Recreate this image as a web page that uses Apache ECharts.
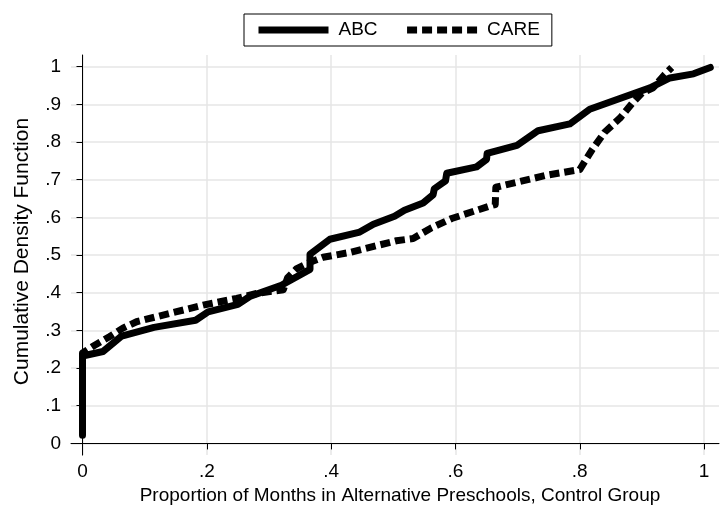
<!DOCTYPE html>
<html>
<head>
<meta charset="utf-8">
<script src="https://cdn.jsdelivr.net/npm/echarts@6/dist/echarts.min.js"></script>
<style>
html,body{margin:0;padding:0;background:#fff;}
#chart{width:723px;height:510px;}
</style>
</head>
<body>
<div id="chart"></div>
<script>
// Data (x = proportion, y = CDF)
var abcX = [0, 0, 0.033, 0.049, 0.063, 0.115, 0.182, 0.202, 0.25, 0.269, 0.32, 0.366, 0.366, 0.398, 0.446, 0.468, 0.502, 0.518, 0.548, 0.564, 0.566, 0.584, 0.586, 0.634, 0.65, 0.651, 0.699, 0.733, 0.784, 0.816, 0.913, 0.945, 0.983, 1.01];
var abcY = [0.022, 0.232, 0.244, 0.266, 0.285, 0.308, 0.327, 0.349, 0.369, 0.39, 0.42, 0.462, 0.502, 0.542, 0.561, 0.582, 0.603, 0.619, 0.638, 0.66, 0.676, 0.697, 0.717, 0.734, 0.754, 0.77, 0.791, 0.83, 0.848, 0.887, 0.944, 0.97, 0.981, 0.998];
var careX = [0, 0, 0.017, 0.044, 0.065, 0.087, 0.14, 0.194, 0.248, 0.28, 0.323, 0.33, 0.344, 0.366, 0.387, 0.43, 0.505, 0.532, 0.561, 0.594, 0.655, 0.664, 0.665, 0.693, 0.747, 0.8, 0.82, 0.84, 0.865, 0.884, 0.9, 0.918, 0.936, 0.948];
var careY = [0.03, 0.24, 0.258, 0.284, 0.306, 0.323, 0.345, 0.367, 0.385, 0.398, 0.408, 0.44, 0.463, 0.481, 0.494, 0.507, 0.538, 0.544, 0.572, 0.597, 0.63, 0.634, 0.68, 0.691, 0.712, 0.727, 0.78, 0.826, 0.864, 0.902, 0.93, 0.944, 0.978, 0.998];
var xTicks = [0, 0.2, 0.4, 0.6, 0.8, 1];
var xTickLabels = ['0', '.2', '.4', '.6', '.8', '1'];
var yTicks = [0, 0.1, 0.2, 0.3, 0.4, 0.5, 0.6, 0.7, 0.8, 0.9, 1];
var yTickLabels = ['0', '.1', '.2', '.3', '.4', '.5', '.6', '.7', '.8', '.9', '1'];
var seriesNames = ['ABC', 'CARE'];
var xTitle = 'Proportion of Months in Alternative Preschools, Control Group';
var yTitle = 'Cumulative Density Function';

function pairs(xs, ys) { return xs.map(function (v, i) { return [v, ys[i]]; }); }
function fmt(vals, labels) {
  return function (v) {
    for (var i = 0; i < vals.length; i++) { if (Math.abs(vals[i] - v) < 1e-6) return labels[i]; }
    return '';
  };
}
var FONT = 'Liberation Sans, Arial, Helvetica, sans-serif';
var chart = echarts.init(document.getElementById('chart'), null, { renderer: 'canvas' });
chart.setOption({
  animation: false,
  backgroundColor: '#fff',
  textStyle: { fontFamily: FONT, color: '#000' },
  legend: {
    left: 244, top: 14,
    padding: [6, 12, 6, 11],
    itemGap: 26,
    itemWidth: 70, itemHeight: 2,
    borderColor: '#000', borderWidth: 1,
    lineStyle: { width: 7, cap: 'butt' },
    itemStyle: { color: '#000' },
    textStyle: { fontSize: 19, lineHeight: 20, fontFamily: FONT, color: '#000', padding: [0, 0, 0, 5] },
    data: seriesNames
  },
  grid: { left: 71, right: 4, top: 55, bottom: 50, containLabel: false },
  xAxis: {
    type: 'value', min: -0.0185, max: 1.024,
    name: xTitle, nameLocation: 'middle', nameGap: 22,
    nameTextStyle: { fontSize: 19, fontFamily: FONT, color: '#000', padding: [0, 0, 0, 10] },
    axisLine: { lineStyle: { color: '#000', width: 1 } },
    axisTick: { show: true, length: 6, lineStyle: { color: '#000' }, customValues: xTicks },
    axisLabel: { fontSize: 19, color: '#000', fontFamily: FONT, margin: 7, customValues: xTicks, formatter: fmt(xTicks, xTickLabels) },
    splitLine: { show: true, lineStyle: { color: '#e6e6e6', width: 1.5 } }
  },
  yAxis: {
    type: 'value', min: -0.031, max: 1.031,
    name: yTitle, nameLocation: 'middle', nameGap: 38, nameRotate: 90,
    nameTextStyle: { fontSize: 21, fontFamily: FONT, color: '#000', padding: [0, 0, 0, 7] },
    axisLine: { show: true, lineStyle: { color: '#000', width: 1 } },
    axisTick: { show: true, length: 6, lineStyle: { color: '#000' }, customValues: yTicks },
    axisLabel: { fontSize: 19, color: '#000', fontFamily: FONT, margin: 10, customValues: yTicks, formatter: fmt(yTicks, yTickLabels) },
    splitLine: { show: true, lineStyle: { color: '#e6e6e6', width: 1.5 } }
  },
  series: [
    {
      name: seriesNames[0], type: 'line', data: pairs(abcX, abcY),
      showSymbol: false, symbol: 'none',
      lineStyle: { color: '#000', width: 7, cap: 'round', join: 'round' },
      itemStyle: { color: '#000' }
    },
    {
      name: seriesNames[1], type: 'line', data: pairs(careX, careY),
      showSymbol: false, symbol: 'none',
      lineStyle: { color: '#000', width: 7, type: [10, 5], cap: 'butt', join: 'round' },
      itemStyle: { color: '#000' }
    }
  ]
});
</script>
</body>
</html>
